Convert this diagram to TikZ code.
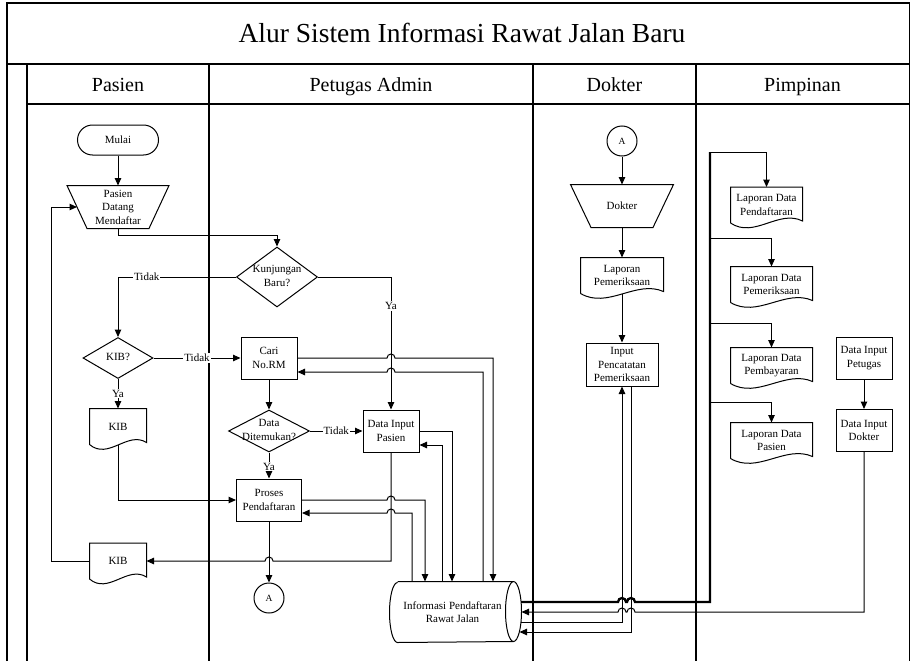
\documentclass[tikz,border=0pt]{standalone}
\usepackage{fontspec}
\setmainfont{Liberation Serif}
\usepackage{tikz}
\usetikzlibrary{shapes.geometric, positioning, calc, arrows.meta}
\newcommand{\flowcolor}{black}
\newcommand{\nodefont}{\fontsize{11}{13.5}\selectfont}
\newcommand{\slim}[1]{\makebox[0pt]{\begin{tabular}{@{}c@{}}#1\end{tabular}}}
\tikzstyle{lane} = [line width=1.4pt, draw=\flowcolor]
\tikzstyle{terminal} = [rectangle, rounded corners=15pt,
minimum width=81pt,
minimum height=30pt,
text centered,
draw=\flowcolor]
\tikzstyle{manualop} = [rectangle,
minimum width=101pt,
minimum height=42pt, inner sep=1pt, align=center]
\tikzstyle{decision} = [diamond, aspect=1,
minimum width=81pt,
minimum height=60pt, inner sep=0pt,
draw=\flowcolor]
\tikzstyle{process} = [rectangle,
minimum width=56pt,
minimum height=42pt, inner sep=1pt, align=center,
draw=\flowcolor]
\tikzstyle{docu} = [rectangle, minimum height=35pt, inner sep=1pt, align=center]
\tikzstyle{storage} = [rectangle, minimum width=115pt, minimum height=60pt,
inner sep=1pt, align=center]
\tikzstyle{connector} = [circle, minimum size=30pt, inner sep=0pt,
font=\fontsize{9.5}{10}\selectfont, draw=\flowcolor]
\tikzstyle{docline} = [draw=\flowcolor, line width=1pt]
\tikzstyle{lbl} = [fill=white, inner sep=1pt]
\tikzstyle{titletext} = [font=\fontsize{27.5}{30}\selectfont, anchor=base]
\tikzstyle{headtext} = [font=\fontsize{20}{24}\selectfont, anchor=base]
\tikzstyle{arrow} = [line width=1pt, -{Triangle[length=7.5pt, width=6.5pt]}]
\tikzstyle{thickline} = [line width=2.3pt]
% document outline with wavy bottom
\newcommand{\docoutline}[1]{\draw[docline] (#1.south west) -- (#1.north west)
  -- (#1.north east) -- ([yshift=2pt]#1.south east)
  .. controls ($(#1.south east)!0.33!(#1.south west)+(0,-14)$)
  and ($(#1.south east)!0.67!(#1.south west)+(0,16)$) .. (#1.south west);}
% manual operation outline, #2 = leg offset
\newcommand{\manualoutline}[2]{\draw[docline] (#1.north west) -- (#1.north east)
  -- ([xshift=-#2]#1.south east) -- ([xshift=#2]#1.south west) -- cycle;}
% direct access storage outline
\newcommand{\dboutline}[1]{\draw[docline] (#1.north west) -- (#1.north east)
  arc[start angle=90, end angle=-90, x radius=8pt, y radius=30pt]
  -- (#1.south west)
  arc[start angle=-90, end angle=-270, x radius=8pt, y radius=30pt];
  \draw[docline] (#1.north east)
  arc[start angle=90, end angle=270, x radius=8pt, y radius=30pt];}

\begin{document}
\begin{tikzpicture}[x=1pt, y=-1pt, node distance=70pt, font=\nodefont, line width=1pt]
\useasboundingbox (0,0) rectangle (912,661);

%-----------frame and lanes
\draw[lane] (7,661) -- (7,3) -- (909.5,3) -- (909.5,661);
\draw[lane] (7,64) -- (909.5,64);
\draw[lane] (27,104) -- (909.5,104);
\draw[lane] (27,64) -- (27,661);
\foreach \xlane in {209,533,696}
  \draw[lane] (\xlane,64) -- (\xlane,661);

%-----------title and lane headers
\node (title) [titletext] at (462,42) {Alur Sistem Informasi Rawat Jalan Baru};
\node (hpasien) [headtext] at (118,92) {Pasien};
\node (hadmin) [headtext] at (371,92) {Petugas Admin};
\node (hdokter) [headtext] at (614.5,92) {Dokter};
\node (hpimpinan) [headtext] at (802.5,92) {Pimpinan};

%-----------pasien
\node (mulai) [terminal] at (118,140) {Mulai};
\node (datang) [manualop, below of=mulai, yshift=3pt] {Pasien\\Datang\\Mendaftar};
\node (kib) [decision, minimum width=70pt, minimum height=41pt,
  below of=datang, yshift=-81pt] {\slim{KIB?}};
\node (kib1) [docu, minimum width=56pt, below of=kib, yshift=1.5pt] {KIB};
\node (kib2) [docu, minimum width=56pt, below of=kib1, yshift=-64.5pt] {KIB};

%-----------petugas admin
\node (kunjungan) [decision] at (277,277) {\slim{Kunjungan\\Baru?}};
\node (cari) [process, below of=kunjungan, xshift=-8pt, yshift=-11pt] {Cari\\No.RM};
\node (ditemu) [decision, minimum height=42pt, below of=cari, yshift=-3pt]
  {\slim{Data\\Ditemukan?}};
\node (proses) [process, minimum width=65pt, below of=ditemu, yshift=1pt]
  {Proses\\Pendaftaran};
\node (konA) [connector, below of=proses, yshift=-28pt] {A};
\node (inputpasien) [process, right of=ditemu, xshift=52pt] {Data Input\\Pasien};
%-----------the datastore
\node (dbrj) [storage, below of=inputpasien, xshift=64.5pt, yshift=-111pt]
  {\hspace*{-6pt}Informasi Pendaftaran\\\hspace*{-6pt}Rawat Jalan};

%-----------dokter
\node (konA2) [connector] at (622,141) {A};
\node (dokter) [manualop, minimum width=102pt, below of=konA2, yshift=5pt] {Dokter};
\node (lappem) [docu, minimum width=82pt, below of=dokter, yshift=0.5pt]
  {Laporan\\Pemeriksaan};
\node (inputperiksa) [process, minimum width=72pt, minimum height=43pt,
  below of=lappem, yshift=-19pt] {Input\\Pencatatan\\Pemeriksaan};

%-----------pimpinan
\node (lapdaftar) [docu, minimum width=71pt] at (766.5,205) {Laporan Data\\Pendaftaran};
\node (lappriksa) [docu, minimum width=81pt, below of=lapdaftar, xshift=5pt, yshift=-9.5pt]
  {Laporan Data\\Pemeriksaan};
\node (lapbayar) [docu, minimum width=81pt, below of=lappriksa, yshift=-11pt]
  {Laporan Data\\Pembayaran};
\node (lappasien) [docu, minimum width=81pt, below of=lapbayar, yshift=-5pt]
  {Laporan Data\\Pasien};
\node (inputpetugas) [process, right of=lapbayar, xshift=22.5pt, yshift=7.5pt]
  {Data Input\\Petugas};
\node (inputdokter) [process, below of=inputpetugas, yshift=-2.5pt] {Data Input\\Dokter};

\foreach \doc in {kib1,kib2,lappem,lapdaftar,lappriksa,lapbayar,lappasien}
  {\docoutline{\doc}}
\manualoutline{datang}{20pt}
\manualoutline{dokter}{20.5pt}
\dboutline{dbrj}

%-----------line ends
\coordinate (datangin) at ([xshift=10pt]datang.west);
\coordinate (cariin) at ([yshift=-14pt]cari.east);
\coordinate (pasienin) at ([yshift=-14pt]inputpasien.east);
\coordinate (prosesin) at ([yshift=-13pt]proses.east);
\coordinate (dbout) at ([xshift=7.5pt, yshift=10pt]dbrj.east);
\coordinate (dbin) at ([xshift=8pt]dbrj.east);
\coordinate (dbback) at ([xshift=7.5pt, yshift=-10pt]dbrj.east);
\coordinate (dbin2) at ([xshift=6pt, yshift=-20pt]dbrj.east);
\coordinate (periksaout) at ([xshift=9pt]inputperiksa.south);
\coordinate (spine1) at (710,152);
\coordinate (spine2) at (710,238);
\coordinate (spine3) at (710,323);
\coordinate (spine4) at (710,402);

%-----------pasien flow
\draw [arrow] (mulai) -- (datang);
\draw [arrow] (datang.south) -- ++(0,7) -| (kunjungan.north);
\draw [arrow] (kunjungan.west) -| (kib.north) node [lbl, pos=0.378] {Tidak};
\draw [arrow] (kunjungan.east) -| (inputpasien.north) node [lbl, pos=0.61] {Ya};
\draw [arrow] (kib.south) -- (kib1.north) node [lbl, midway] {Ya};
\draw [arrow] (kib.east) -- (cari.west) node [lbl, midway] {Tidak};
\draw [arrow] (cari.south) -- (ditemu.north);
\draw [arrow] (ditemu.south) -- (proses.north) node [lbl, pos=0.55] {Ya};
\draw [arrow] (ditemu.east) -- (inputpasien.west) node [lbl, midway] {Tidak};
\draw [arrow] (kib1.south) |- (proses.west);
\draw [arrow] (proses.south) -- (konA.north);
\draw [arrow] (inputpasien.south) |- ([xshift=4pt]proses.south |- kib2.east)
  arc[start angle=0, end angle=180, radius=4pt] -- (kib2.east);
\draw [arrow] (kib2.west) -- ++(-38,0) |- (datangin);

%-----------to and from the datastore
\draw [arrow] (cari.east) -- ([xshift=-4pt]inputpasien.north |- cari.east)
  arc[start angle=180, end angle=0, radius=4pt] -| ([xshift=37.5pt]dbrj.north);
\draw [arrow] ([xshift=27.5pt]dbrj.north) |- ([xshift=4pt]inputpasien.north |- cariin)
  arc[start angle=0, end angle=180, radius=4pt] -- (cariin);
\draw [arrow] (inputpasien.east) -| ([xshift=-3.5pt]dbrj.north);
\draw [arrow] ([xshift=-13.5pt]dbrj.north) |- (pasienin);
\draw [arrow] (proses.east) -- ([xshift=-4pt]inputpasien.south |- proses.east)
  arc[start angle=180, end angle=0, radius=4pt] -| ([xshift=-30.5pt]dbrj.north);
\draw [arrow] ([xshift=-43.5pt]dbrj.north) |- ([xshift=4pt]inputpasien.south |- prosesin)
  arc[start angle=0, end angle=180, radius=4pt] -- (prosesin);

%-----------dokter flow
\draw [arrow] (konA2) -- (dokter);
\draw [arrow] (dokter) -- (lappem);
\draw [arrow] (lappem.south) -- (inputperiksa.north);
\draw [arrow] (dbback) -| (inputperiksa.south);
\draw [arrow] (periksaout) |- (dbin2);

%-----------pimpinan flow
\draw [thickline] (dbout) -- ([xshift=-4pt]inputperiksa.south |- dbout)
  arc[start angle=180, end angle=0, radius=4pt] -- ([xshift=-4pt]periksaout |- dbout)
  arc[start angle=180, end angle=0, radius=4pt] -- (spine1 |- dbout) -- (spine1);
\draw [arrow] (spine1) -| (lapdaftar.north);
\draw [arrow] (spine2) -| (lappriksa.north);
\draw [arrow] (spine3) -| (lapbayar.north);
\draw [arrow] (spine4) -| (lappasien.north);
\draw [arrow] (inputpetugas) -- (inputdokter);
\draw [arrow] (inputdokter.south) -- (inputdokter.south |- dbin)
  -- ([xshift=4pt]periksaout |- dbin) arc[start angle=0, end angle=180, radius=4pt]
  -- ([xshift=4pt]inputperiksa.south |- dbin) arc[start angle=0, end angle=180, radius=4pt]
  -- (dbin);

\end{tikzpicture}
\end{document}
